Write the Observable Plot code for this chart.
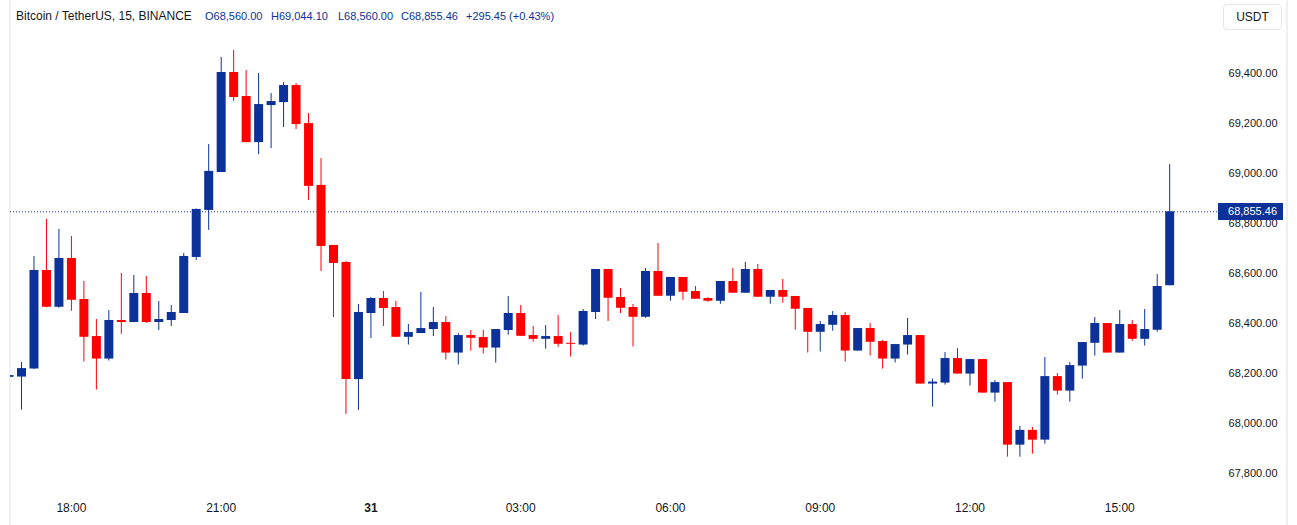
<!DOCTYPE html>
<html>
<head>
<meta charset="utf-8">
<script src="https://cdn.jsdelivr.net/npm/d3@7"></script>
<script src="https://cdn.jsdelivr.net/npm/@observablehq/plot@0.6"></script>
<style>
  body { margin: 0; background: #ffffff; }
  #wrap { position: relative; width: 1297px; height: 525px; overflow: hidden;
          font-family: "Liberation Sans", Arial, sans-serif; color: #131722; }
  #frame { position: absolute; left: 9px; top: 0; width: 1275px; height: 525px;
           border-left: 2px solid #eef0f5; border-right: 2px solid #eef0f5; box-sizing: content-box; }
  #chart { position: absolute; left: 0; top: 0; }
  .hdr { position: absolute; top: 8px; line-height: 16px; white-space: nowrap; }
  #name { left: 16px; font-size: 12px; color: #131722; }
  .val { font-size: 11px; color: #0c3299; }
  #usdt { position: absolute; left: 1223px; top: 4px; width: 57px; height: 24px;
          border: 1px solid #e3e6ee; border-radius: 4px; font-size: 12px; line-height: 24px;
          padding-left: 0; text-align: center; color: #131722; }
  #plabel { position: absolute; left: 1218px; width: 59px; height: 17px; padding-right: 6px;
            background: #0c3299; color: #ffffff; font-size: 11px; line-height: 17px; text-align: right; }
</style>
</head>
<body>
<div id="wrap">
  <div id="frame"></div>
  <div id="chart"></div>
</div>
<script>
const BLUE = "#0c3299";
const RED = "#ff0000";

// first candle starts 2024-10-30 16:45 UTC, 15-minute candles
const startTime = Date.UTC(2024, 9, 30, 16, 45);

const opens = [68194, 68195, 68227, 68621, 68474, 68669, 68505, 68357, 68267, 68421,
  68413, 68529, 68413, 68421, 68449, 68673, 68861, 69013, 69412, 69316,
  69132, 69280, 69292, 69360, 69208, 68961, 68721, 68653, 68185, 68449,
  68509, 68473, 68354, 68369, 68385, 68413, 68291, 68361, 68353, 68311,
  68381, 68449, 68361, 68346, 68357, 68330, 68323, 68453, 68625, 68513,
  68473, 68434, 68617, 68518, 68593, 68537, 68509, 68498, 68577, 68530,
  68625, 68514, 68541, 68517, 68469, 68374, 68402, 68441, 68299, 68389,
  68337, 68267, 68323, 68361, 68167, 68171, 68269, 68207, 68265, 68131,
  68173, 67923, 67982, 67943, 68197, 68139, 68239, 68330, 68409, 68291,
  68405, 68346, 68382, 68560];
const highs = [68201, 68253, 68677, 68825, 68785, 68757, 68577, 68425, 68461, 68609,
  68601, 68597, 68497, 68481, 68689, 68866, 69124, 69472, 69500, 69420,
  69408, 69328, 69372, 69368, 69248, 69068, 68721, 68657, 68485, 68513,
  68537, 68497, 68405, 68533, 68473, 68437, 68369, 68381, 68381, 68385,
  68517, 68481, 68397, 68401, 68441, 68373, 68465, 68625, 68625, 68549,
  68485, 68629, 68729, 68593, 68593, 68557, 68513, 68577, 68629, 68653,
  68645, 68541, 68585, 68517, 68469, 68417, 68457, 68453, 68389, 68409,
  68341, 68325, 68429, 68361, 68187, 68293, 68309, 68265, 68265, 68181,
  68173, 67998, 67994, 68273, 68209, 68253, 68333, 68433, 68409, 68461,
  68421, 68465, 68605, 69044.10];
const lows = [68194, 68063, 68225, 68472, 68470, 68458, 68255, 68143, 68259, 68366,
  68412, 68409, 68381, 68397, 68449, 68661, 68781, 69013, 69296, 69131,
  69084, 69108, 69192, 69184, 68901, 68617, 68433, 68046, 68062, 68349,
  68397, 68354, 68323, 68369, 68357, 68263, 68243, 68299, 68287, 68251,
  68362, 68358, 68334, 68306, 68314, 68275, 68319, 68425, 68417, 68449,
  68315, 68430, 68518, 68498, 68502, 68506, 68494, 68486, 68530, 68530,
  68514, 68486, 68490, 68382, 68291, 68295, 68378, 68255, 68299, 68279,
  68227, 68251, 68283, 68167, 68075, 68163, 68207, 68159, 68131, 68095,
  67875, 67875, 67887, 67927, 68123, 68095, 68187, 68279, 68291, 68291,
  68338, 68319, 68374, 68560];
const closes = [68201, 68229, 68621, 68474, 68669, 68502, 68354, 68267, 68421, 68413,
  68529, 68413, 68425, 68453, 68677, 68865, 69017, 69412, 69312, 69132,
  69284, 69296, 69360, 69204, 68957, 68717, 68649, 68185, 68453, 68509,
  68469, 68354, 68373, 68389, 68413, 68291, 68361, 68350, 68311, 68385,
  68449, 68358, 68346, 68357, 68326, 68326, 68457, 68625, 68510, 68470,
  68434, 68617, 68518, 68593, 68534, 68506, 68498, 68577, 68530, 68625,
  68514, 68541, 68514, 68466, 68374, 68405, 68441, 68299, 68389, 68334,
  68267, 68325, 68361, 68167, 68175, 68269, 68207, 68265, 68131, 68173,
  67923, 67982, 67943, 68197, 68139, 68241, 68333, 68409, 68291, 68405,
  68346, 68385, 68557, 68855.46];

const priceTicks = [67800, 68000, 68200, 68400, 68600, 68800, 69000, 69200, 69400];
const timeTickDates = ["2024-10-30T18:00Z", "2024-10-30T21:00Z", "2024-10-31T00:00Z", "2024-10-31T03:00Z",
  "2024-10-31T06:00Z", "2024-10-31T09:00Z", "2024-10-31T12:00Z", "2024-10-31T15:00Z"];
const timeTickLabels = ["18:00", "21:00", "31", "03:00", "06:00", "09:00", "12:00", "15:00"];
const boldTickLabels = ["31"];

const symbolTitle = "Bitcoin / TetherUS, 15, BINANCE";
const changeAbs = 295.45;
const changePct = 0.43;

const candles = opens.map((o, i) => ({
  t: new Date(startTime + i * 15 * 60 * 1000),
  o, h: highs[i], l: lows[i], c: closes[i]
}));
const colorOf = d => (d.c >= d.o ? BLUE : RED);
const last = candles[candles.length - 1];
const fmt = d3.format(",.2f");

const ticks = timeTickDates.map((s, i) => ({ t: new Date(s), label: timeTickLabels[i] }));

const plot = Plot.plot({
  width: 1297,
  height: 525,
  marginLeft: 10,
  marginRight: 80,
  marginTop: 0,
  marginBottom: 35,
  style: { background: "transparent", fontFamily: "'Liberation Sans', Arial, sans-serif" },
  x: { type: "utc", domain: [new Date(Date.UTC(2024, 9, 30, 16, 46, 47)), new Date(Date.UTC(2024, 9, 31, 16, 57, 29))], axis: null },
  y: { domain: [67741.8, 69699.8], axis: null },
  color: { type: "identity" },
  marks: [
    Plot.ruleY([last.c], { stroke: BLUE, strokeWidth: 1, strokeDasharray: "1 2" }),
    Plot.ruleX(candles, { x: "t", y1: "l", y2: "h", stroke: colorOf, strokeWidth: 1, clip: true }),
    Plot.ruleX(candles, { x: "t", y1: "o", y2: "c", stroke: colorOf, strokeWidth: 9, clip: true }),
    Plot.text(priceTicks, { y: d => d, text: d => fmt(d), frameAnchor: "right", dx: 60, dy: -2,
      textAnchor: "end", fontSize: 11, fill: "#131722" }),
    Plot.text(ticks, { filter: d => !boldTickLabels.includes(d.label), x: "t", text: "label",
      frameAnchor: "bottom", dy: 21, fontSize: 12, fill: "#131722" }),
    Plot.text(ticks, { filter: d => boldTickLabels.includes(d.label), x: "t", text: "label",
      frameAnchor: "bottom", dy: 21, fontSize: 12, fontWeight: "bold", fill: "#131722" })
  ]
});
document.getElementById("chart").appendChild(plot);

const wrap = document.getElementById("wrap");
function addDiv(id, cls, text, left) {
  const el = document.createElement("div");
  if (id) el.id = id;
  if (cls) el.className = cls;
  el.textContent = text;
  if (left != null) el.style.left = left + "px";
  wrap.appendChild(el);
  return el;
}
addDiv("name", "hdr", symbolTitle);
addDiv(null, "hdr val", "O" + fmt(last.o), 205);
addDiv(null, "hdr val", "H" + fmt(last.h), 271);
addDiv(null, "hdr val", "L" + fmt(last.l), 338);
addDiv(null, "hdr val", "C" + fmt(last.c), 401);
addDiv(null, "hdr val", "+" + fmt(changeAbs) + " (+" + changePct.toFixed(2) + "%)", 466);
addDiv("usdt", null, "USDT");
const yPix = plot.scale("y").apply(last.c);
const pl = addDiv("plabel", null, fmt(last.c));
pl.style.top = Math.round(yPix - 8.5) + "px";
</script>
</body>
</html>
